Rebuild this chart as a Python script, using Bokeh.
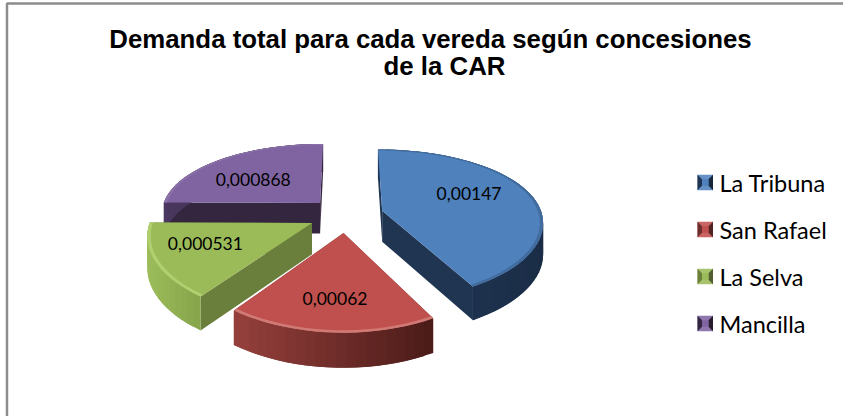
from math import sin, cos, pi
from bokeh.plotting import figure
from bokeh.embed import file_html
from bokeh.core.properties import value
from bokeh.resources import INLINE

categories = ["La Tribuna", "San Rafael", "La Selva", "Mancilla"]
values = [0.00147, 0.00062, 0.000531, 0.000868]
title_lines = ["Demanda total para cada vereda según concesiones", "de la CAR"]

top_colors = ["#4f81bd", "#c0504d", "#9bbb59", "#8064a2"]
cut_colors = ["#1f3552", "#6d2f2c", "#6b7f3c", "#35263f"]
wall_left = ["#20385a", "#96403c", "#9cbd5a", "#4a3860"]
wall_right = ["#1b2d46", "#4a1b18", "#86a44b", "#35263f"]
edge_colors = ["#426c9e", "#d07a76", "#b0cf6e", "#8a72a8"]
order = [3, 0, 2, 1]

# layout of the projection
CX, CY, RX, RY, K, EXPLODE, DEPTH = 345.5, 214.5, 160, 73.9, 0.182, 0.235, 31
label_r = [0.6, 0.7, 0.7, 0.7]
label_dx = [-3, 0, 1, 4]
label_dy = [-7, 0, -5, 8]
legend_x, legend_text_x, legend_y0, legend_dy, legend_size = 697, 719, 182, 47, 15.5


def proj(X, Y, z=0.0):
    s = 1 / (1 - K * Y)
    return CX + RX * X * s ** 0.75, CY + RY * Y * s + z * s ** 0.5


def lerp(c1, c2, t):
    a = [int(c1[i:i + 2], 16) for i in (1, 3, 5)]
    b = [int(c2[i:i + 2], 16) for i in (1, 3, 5)]
    return "#%02x%02x%02x" % tuple(round(p + (q - p) * t) for p, q in zip(a, b))


total = sum(values)
spans, start = [], 0.0
for v in values:
    spans.append((start, start + v / total * 360))
    start += v / total * 360


def world(a, i, r=1.0):
    a0, a1 = spans[i]
    m = (a0 + a1) / 2 * pi / 180
    a = a * pi / 180
    return EXPLODE * sin(m) + r * sin(a), -EXPLODE * cos(m) - r * cos(a)


p = figure(width=843, height=416, x_range=(0, 843), y_range=(416, 0),
           output_backend="svg", toolbar_location=None,
           x_axis_location=None, y_axis_location=None, min_border=0,
           outline_line_color=None, margin=(0, 0, 0, 0))
p.grid.visible = False

xs, ys, fills = [], [], []
for i in order:
    a0, a1 = spans[i]
    n = max(8, int((a1 - a0) / 3))
    angs = [a0 + (a1 - a0) * k / n for k in range(n + 1)]
    apex = world(a0, i, 0.0)
    arc = [world(a, i) for a in angs]
    top = [proj(*q) for q in arc]
    bot = [proj(*q, DEPTH) for q in arc]
    ax, ay = proj(*apex)
    bx, by = proj(*apex, DEPTH)
    # two straight cut faces
    for t, b in ((top[0], bot[0]), (top[-1], bot[-1])):
        xs.append([ax, t[0], b[0], bx])
        ys.append([ay, t[1], b[1], by])
        fills.append(cut_colors[i])
    # outer wall as narrow strips, shaded from left to right
    xmin, xmax = min(q[0] for q in top), max(q[0] for q in top)
    for k in range(n):
        # each strip overlaps the next one, so no seam shows
        j = min(k + 2, n)
        xs.append([top[k][0], top[j][0], bot[j][0], bot[k][0]])
        ys.append([top[k][1], top[j][1], bot[j][1], bot[k][1]])
        fills.append(lerp(wall_left[i], wall_right[i], ((top[k][0] + top[k + 1][0]) / 2 - xmin) / (xmax - xmin)))
    # top face
    xs.append([ax] + [q[0] for q in top])
    ys.append([ay] + [q[1] for q in top])
    fills.append(top_colors[i])
    # bevel along the rim
    rim = [proj(*world(a, i, 0.98)) for a in angs]
    xs.append([q[0] for q in rim] + [q[0] for q in top[::-1]])
    ys.append([q[1] for q in rim] + [q[1] for q in top[::-1]])
    fills.append(edge_colors[i])

p.patches(xs, ys, fill_color=fills, line_color=None)

# data labels
tx, ty, tt = [], [], []
for i, v in enumerate(values):
    m = sum(spans[i]) / 2
    q = proj(*world(m, i, label_r[i]))
    tx.append(q[0] + label_dx[i])
    ty.append(q[1] + label_dy[i])
    tt.append(str(v).replace(".", ","))
p.text(tx, ty, text=tt, text_font=value("Lato"), text_font_size="17.5px",
       text_align="center", text_baseline="middle", text_color="#000000")

# legend
mx, my, mc = [], [], []
for i in range(len(categories)):
    c = top_colors[i]
    x0, y0 = legend_x, legend_y0 + legend_dy * i - legend_size / 2
    x1, y1 = x0 + legend_size, y0 + legend_size
    ix0, iy0, ix1, iy1 = x0 + 4.5, y0 + 4.5, x1 - 4.5, y1 - 4.5
    mx += [[x0, x1, x1, x0], [x0, ix0, ix0, x0], [x1, ix1, ix1, x1], [ix0, ix1, ix1, ix0]]
    my += [[y0, y0, y1, y1], [y0, iy0, iy1, y1], [y0, iy0, iy1, y1], [iy0, iy0, iy1, iy1]]
    mc += [lerp(c, "#ffffff", 0.12), cut_colors[i], lerp(cut_colors[i], "#000000", 0.25), c]
p.patches(mx, my, fill_color=mc, line_color=None)
p.text([legend_text_x] * 4, [legend_y0 + legend_dy * i for i in range(4)], text=categories,
       text_font=value("Lato"), text_font_size="23.5px", text_align="left",
       text_baseline="middle", text_color="#000000")

# title
p.text([430, 444], [38.5, 65], text=title_lines, text_font=value("Liberation Sans"),
       text_font_size="25.8px", text_font_style="bold", text_align="center",
       text_baseline="middle", text_color="#000000")

# chart frame
p.line([6.5, 6.5, 843], [416, 3, 3], line_color="#8c8c8c", line_width=2.5)

open("out.html", "w").write(file_html(p, INLINE))
